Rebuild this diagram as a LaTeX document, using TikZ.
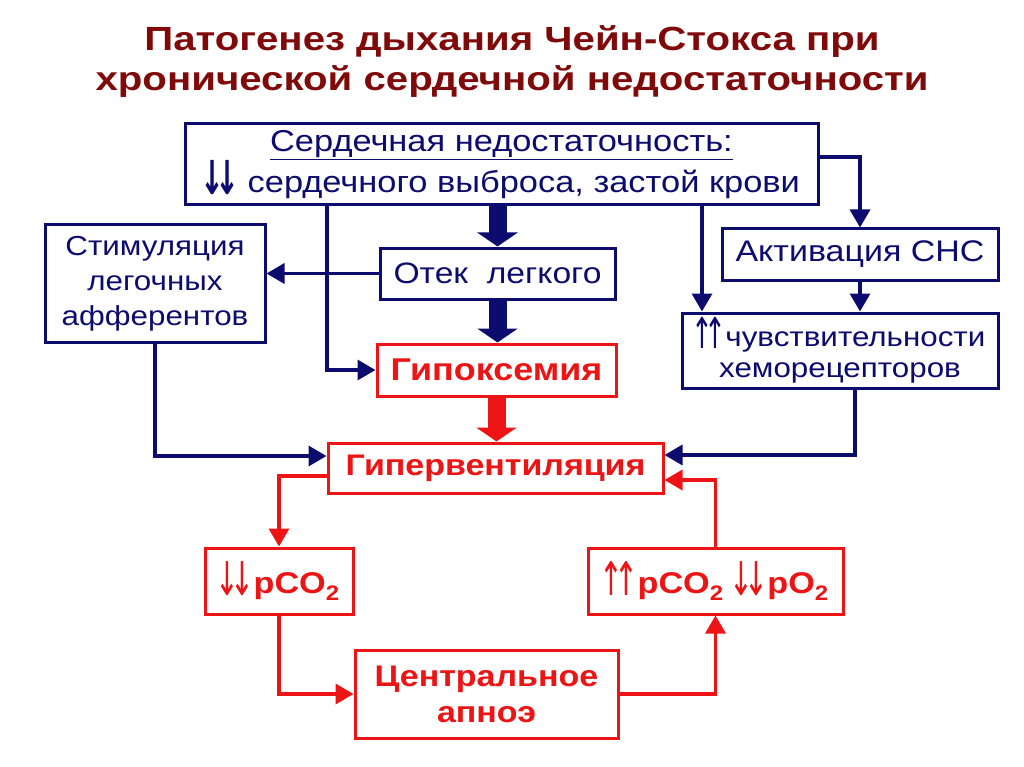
\documentclass[tikz,border=0pt]{standalone}
\usepackage{fontspec}
\usepackage{graphicx}
\setmainfont{Liberation Sans}[FakeStretch=1.14]
\newfontfamily\titlefont{Liberation Sans}[FakeStretch=1.2]
\newfontfamily\dvfont{DejaVu Sans}
\usetikzlibrary{arrows.meta,calc}
\definecolor{navy}{RGB}{12,12,110}
\definecolor{myred}{RGB}{236,20,20}
\definecolor{maroon}{RGB}{128,10,10}
\newcommand{\fs}[2]{\fontsize{#1}{#2}\selectfont}
\newcommand{\tallarr}[1]{\raisebox{-0.08em}{\scalebox{0.95}[1.55]{\dvfont #1}}}
\newcommand{\dn}{\kern-3pt\tallarr{↓}\kern-9pt\tallarr{↓}\kern-1pt}
\newcommand{\up}{\kern-3pt\tallarr{↑}\kern-9pt\tallarr{↑}\kern-1pt}
\newcommand{\sub}[1]{\raisebox{-0.25em}{\fontsize{21}{21}\selectfont #1}}
\begin{document}
\begin{tikzpicture}[x=1pt,y=-1pt,
  nbox/.style={draw=navy,line width=3pt,fill=white,text=navy,align=center,inner sep=0pt},
  rbox/.style={draw=myred,line width=3pt,fill=white,text=myred,align=center,inner sep=0pt,font=\bfseries},
  narr/.style={draw=navy,line width=3.5pt,-{Triangle[length=18pt,width=20pt]}},
  rarr/.style={draw=myred,line width=3.5pt,-{Triangle[length=18pt,width=20pt]}},
  thicknavy/.style={draw=navy,line width=18pt,-{Triangle[length=14pt,width=40pt]}},
  thickred/.style={draw=myred,line width=18pt,-{Triangle[length=14pt,width=40pt]}}]
\useasboundingbox[fill=white] (0,0) rectangle (1024,767);
% title
\node[text=maroon,font=\titlefont\bfseries\fs{33.5}{40},align=center] (title) at (512,62)
  {Патогенез дыхания Чейн-Стокса при\\хронической сердечной недостаточности};
% boxes
\node[nbox,minimum width=633,minimum height=81,font=\fs{30.2}{36}] (top) at (501.5,164.5)
  {\underline{Сердечная недостаточность:}\\{\bfseries\dn} сердечного выброса, застой крови};
\node[nbox,minimum width=220,minimum height=117,font=\fs{27.5}{35}] (stim) at (155,283.5)
  {Стимуляция\\легочных\\афферентов};
\node[nbox,minimum width=235,minimum height=51,font=\fs{29.5}{34}] (otek) at (497.5,273.5)
  {Отек\ \ легкого};
\node[nbox,minimum width=276,minimum height=51,font=\fs{29.8}{34}] (aktiv) at (860,254.5)
  {Активация СНС};
\node[nbox,minimum width=316,minimum height=75,font=\fs{27.5}{31}] (chuv) at (840,350.5)
  {\up чувствительности\\хеморецепторов};
\node[rbox,minimum width=239,minimum height=52,font=\bfseries\fs{31.5}{34}] (gipox) at (496.5,370)
  {Гипоксемия};
\node[rbox,minimum width=335,minimum height=50,font=\bfseries\fs{29.8}{34}] (giperv) at (495.5,468)
  {Гипервентиляция};
\node[rbox,minimum width=148,minimum height=66,font=\bfseries\fs{30}{34}] (pco2) at (279,581)
  {\mdseries\dn\bfseries pCO\sub{2}};
\node[rbox,minimum width=255,minimum height=66,font=\bfseries\fs{30}{34}] (pco2po2) at (715.5,581)
  {\mdseries\up\bfseries pCO\sub{2} \mdseries\dn\bfseries pO\sub{2}};
\node[rbox,minimum width=263,minimum height=88,font=\bfseries\fs{29.8}{36}] (apnoe) at (486.5,694)
  {Центральное\\апноэ};
% helper coordinates
\coordinate (lx) at (327,0);
\coordinate (rx) at (702,0);
\coordinate (topr) at (0,157);
\coordinate (chx) at (855,0);
\coordinate (y455) at (0,455);
\coordinate (y456) at (0,456);
\coordinate (y476) at (0,476);
\coordinate (y480) at (0,480);
% thick arrows
\draw[thicknavy] (top.south -| otek.north) -- (otek.north);
\draw[thicknavy] (otek.south) -- (otek.south |- gipox.north);
\draw[thickred] (gipox.south) -- (gipox.south |- giperv.north);
% navy connectors
\draw[narr] (top.south -| lx) |- (gipox.west);
\draw[narr] (otek.west) -- (otek.west -| stim.east);
\draw[narr] (top.south -| rx) -- (chuv.north -| rx);
\draw[narr] (top.east |- topr) -| (aktiv.north);
\draw[narr] (aktiv.south) -- (aktiv.south |- chuv.north);
\draw[narr] (chuv.south -| chx) |- (giperv.east |- y455);
\draw[narr] (stim.south) |- (giperv.west |- y456);
% red connectors
\draw[rarr] (giperv.west |- y476) -| (pco2.north);
\draw[rarr] (pco2.south) |- (apnoe.west);
\draw[rarr] (apnoe.east) -| (pco2po2.south);
\draw[rarr] (pco2po2.north) |- (giperv.east |- y480);
\end{tikzpicture}
\end{document}
